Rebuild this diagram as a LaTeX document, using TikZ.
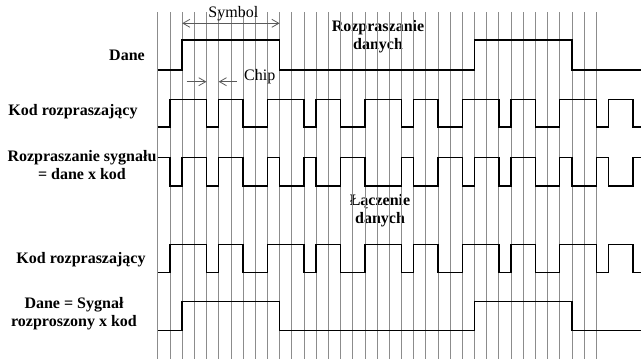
\documentclass[tikz,border=0pt]{standalone}
\usepackage{fontspec}
\setmainfont{Liberation Serif}
\usetikzlibrary{arrows.meta,positioning}

% waveform from its edge positions (in chips): #1 level after first edge, #2 start level, #3 edges, #4 end level
\newcommand{\wave}[4]{%
  \draw[signal] (0,#2) \foreach \t [count=\k] in {#3} { -| (\t,{#2+(#1-#2)*isodd(\k)}) } -- (39.7,#4);}

\begin{document}
\begin{tikzpicture}[x=1pt, y=-1pt, >={Straight Barb[length=7pt,width=8pt]},
    signal/.style={line width=1.5pt, line join=miter},
    gridline/.style={black!45, line width=0.7pt},
    dim/.style={gray!70!black, line width=0.8pt},
    lbl/.style={font=\fontsize{16}{18}\selectfont\bfseries, align=center, inner sep=0pt},
    note/.style={font=\fontsize{16}{18}\selectfont, inner sep=0pt}]
  \useasboundingbox (0,0) rectangle (643,359);

  % row labels
  \node[lbl, anchor=base east] (dane) at (145,60) {Dane};
  \node[lbl, anchor=base] (kod) at (73,115) {Kod rozpraszający};
  \node[lbl] (sygnal) at (82,165.5) {Rozpraszanie sygnału\\= dane x kod};
  \node[lbl, anchor=base] (kod2) at (81,263) {Kod rozpraszający};
  \node[lbl] (dane2) at (74,314) {Dane = Sygnał\\rozproszony x kod};
  \node[lbl] (rozp) at (378,36.3) {Rozpraszanie\\danych};
  \node[lbl] (lacz) at (380,211) {Łączenie\\danych};

  \begin{scope}[xshift=157.8pt, x=12.18pt]
    % chip grid
    \foreach \i in {0,...,36}
      \draw[gridline] (\i,12) -- (\i,359);

    % symbol and chip marks
    \coordinate (sym-l) at (2,23.3);
    \coordinate (sym-r) at (10,23.3);
    \draw[dim, <->] (sym-l) -- (sym-r);
    \node[note, anchor=base] (symbol) at (6.2,17) {Symbol};
    \coordinate (chip-a) at (2.37,81.7);
    \coordinate (chip-l) at (4,81.7);
    \coordinate (chip-r) at (5,81.7);
    \coordinate (chip-b) at (6.48,81.7);
    \draw[dim, ->] (chip-a) -- (chip-l);
    \draw[dim, ->] (chip-b) -- (chip-r);
    \node[note, anchor=base west] (chip) at (7.08,80.7) {Chip};

    % waveforms
    \wave{40}{70}{2,10,26,34}{70}
    \wave{99.3}{127}{1,4,5,7,9,12,13,15,17,20,21,23,25,28,29,31,33,36,37,39}{127}
    \wave{186}{157.7}{1,2,4,5,7,9,10,12,13,15,17,20,21,23,25,26,28,29,31,33,34,36,37,39}{157.7}
    \wave{244.3}{272.7}{1,4,5,7,9,12,13,15,17,20,21,23,25,28,29,31,33,36,37,39}{272.7}
    \wave{301.7}{330.7}{2,10,26,34}{330.7}
  \end{scope}
\end{tikzpicture}
\end{document}
